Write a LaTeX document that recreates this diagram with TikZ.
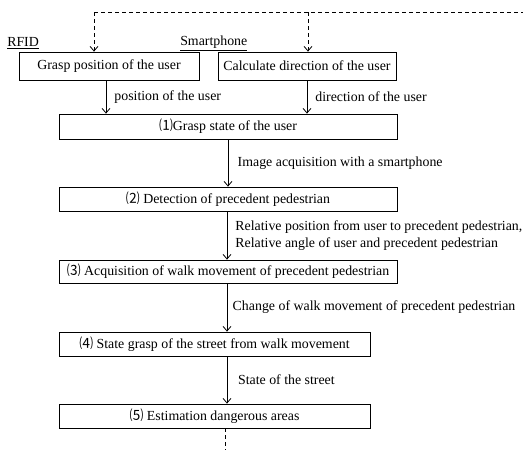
\documentclass[tikz,border=0pt]{standalone}
\usepackage{fontspec}
\setmainfont{Liberation Serif}
\newfontfamily\cjk{Noto Sans CJK JP}
\usetikzlibrary{arrows.meta,positioning}

\begin{document}
\begin{tikzpicture}[x=0.75pt, y=-0.75pt,
		font=\fontsize{10.4}{13}\selectfont,
		stepbox/.style={draw, line width=0.6pt, inner sep=0pt},
		arr/.style={-{Straight Barb[length=3.5pt,width=6pt]}, line width=0.6pt},
		fb/.style={arr, dash pattern=on 3pt off 2.25pt},
		lbl/.style={anchor=west, inner sep=0pt, align=left}]
		\useasboundingbox (0,0) rectangle (523,450);
		% 传感器
		\node[anchor=west, inner sep=0pt] (rfid) at (7,43) {\underline{RFID}};
		\node[anchor=west, inner sep=0pt] (phone) at (180,43) {\underline{Smartphone}};
		\node[stepbox, minimum width=135pt, minimum height=21pt] (pos) at (109,66) {Grasp position of the user};
		\node[stepbox, minimum width=133.5pt, minimum height=21pt] (dir) at (307,66) {Calculate direction of the user};
		% 处理步骤
		\node[stepbox, minimum width=253.5pt, minimum height=18.75pt] (st1) at (228,126.5) {{\cjk ⑴}Grasp state of the user};
		\node[stepbox, minimum width=253.5pt, minimum height=18pt] (st2) at (228,199) {{\cjk ⑵} Detection of precedent pedestrian};
		\node[stepbox, minimum width=253.5pt, minimum height=17.25pt] (st3) at (228,271.5) {{\cjk ⑶} Acquisition of walk movement of precedent pedestrian};
		\node[stepbox, minimum width=233.25pt, minimum height=18pt] (st4) at (214.5,344) {{\cjk ⑷} State grasp of the street from walk movement};
		\node[stepbox, minimum width=233.25pt, minimum height=18pt] (st5) at (214.5,416) {{\cjk ⑸} Estimation dangerous areas};
		% 反馈（虚线）
		\coordinate (fbL) at (94,12);
		\coordinate (fbR) at (308,12);
		\coordinate (fbE) at (523,12);
		\coordinate (fbB) at (225,450);
		\draw[line width=0.6pt, dash pattern=on 3pt off 2.25pt] (fbL) -- (fbE);
		\draw[fb] (fbL) -- (fbL |- pos.north);
		\draw[fb] (fbR) -- (fbR |- dir.north);
		\draw[line width=0.6pt, dash pattern=on 3pt off 2.25pt] (fbB |- st5.south) -- (fbB);
		% 数据流
		\coordinate (a0) at (106,0);
		\coordinate (a1) at (227,0);
		\draw[arr] (a0 |- pos.south) -- (a0 |- st1.north)
			node[lbl, pos=0.5, xshift=6pt] (l1) {position of the user};
		\draw[arr] (dir.south) -- (dir.south |- st1.north)
			node[lbl, pos=0.5, xshift=6pt] (l2) {direction of the user};
		\draw[arr] (st1.south) -- (st2.north)
			node[lbl, pos=0.5, xshift=7pt] (l3) {Image acquisition with a smartphone};
		\draw[arr] (a1 |- st2.south) -- (a1 |- st3.north)
			node[lbl, pos=0.5, xshift=6pt] (l4) {Relative position from user to precedent pedestrian,\\Relative angle of user and precedent pedestrian};
		\draw[arr] (a1 |- st3.south) -- (a1 |- st4.north)
			node[lbl, pos=0.5, xshift=4pt] (l5) {Change of walk movement of precedent pedestrian};
		\draw[arr] (a1 |- st4.south) -- (a1 |- st5.north)
			node[lbl, pos=0.5, xshift=8pt] (l6) {State of the street};
	\end{tikzpicture}
\end{document}
